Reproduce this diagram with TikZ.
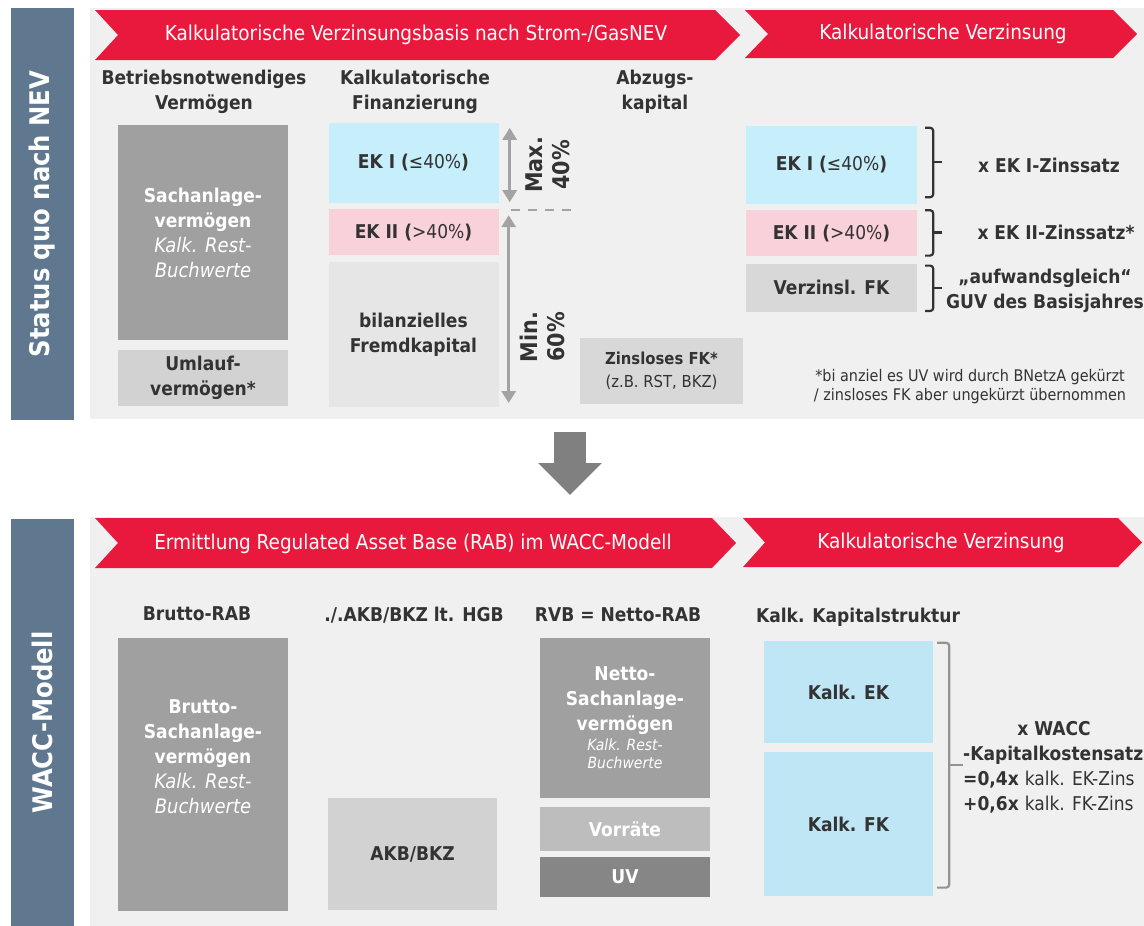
\documentclass[tikz,border=0pt]{standalone}
\usepackage{fontspec}
\setmainfont{DejaVu Sans Condensed}
\usetikzlibrary{arrows.meta,positioning}

\definecolor{barblue}{HTML}{5F7890}
\definecolor{panelgrey}{HTML}{F0F0F0}
\definecolor{bandred}{HTML}{E8193C}
\definecolor{darkbox}{HTML}{A0A0A0}
\definecolor{lightbox}{HTML}{D2D2D2}
\definecolor{palebox}{HTML}{E6E6E6}
\definecolor{midbox}{HTML}{D8D8D8}
\definecolor{ekblue}{HTML}{C6EEFB}
\definecolor{ekpink}{HTML}{F9D1DA}
\definecolor{waccblue}{HTML}{BEE6F5}
\definecolor{txtdark}{HTML}{333333}
\definecolor{arrgrey}{HTML}{A3A3A3}

\tikzset{
  lbl/.style = {align=center, inner sep=0pt, text=txtdark,
    font=\fontsize{19}{25}\selectfont\bfseries},
  blk/.style = {lbl, minimum width=170, minimum height=#1},
  greyblk/.style = {blk=#1, fill=darkbox, text=white},% Sachanlagen
  sidebar/.style = {rotate=90, fill=barblue, text=white, inner sep=0pt,
    minimum width=#1, minimum height=63,
    font=\fontsize{27}{30}\selectfont\bfseries},
  panel/.style = {fill=panelgrey, anchor=north west, inner sep=0pt},
  band/.style = {fill=bandred},
  bandtxt/.style = {text=white, inner sep=0pt,
    font=\fontsize{20.5}{22}\selectfont},
  pct/.style = {lbl, rotate=90, font=\fontsize{23}{27}\selectfont\bfseries},
  dblarr/.style = {{Triangle[width=14pt,length=12pt]}-{Triangle[width=14pt,length=12pt]},
    line width=3.5pt, draw=arrgrey},
  dashline/.style = {draw=arrgrey, line width=2.5pt, dash pattern=on 9pt off 8pt},
  brk/.style = {draw=txtdark, line width=2.2pt, rounded corners=3pt},
  note/.style = {align=center, inner sep=0pt, text=txtdark,
    font=\fontsize{16}{19}\selectfont},
  bigarr/.style = {-{Triangle[width=62pt,length=32pt]}, line width=32pt, draw=gray}
}

\begin{document}
\begin{tikzpicture}[x=1pt,y=-1pt]
\useasboundingbox (0,0) rectangle (1144,926);
\fill[white] (0,0) rectangle (1144,926);

% --- Status quo nach NEV ---
\node[sidebar=412] (sqbar) at (42.5,214) {Status quo nach NEV};
\node[panel, minimum width=1054, minimum height=411] (toppanel) at (90,8) {};
\fill[band] (95,10) -- (715,10) -- (740,35) -- (715,60) -- (95,60) -- (118,35) -- cycle;
\fill[band] (745,10) -- (1113,10) -- (1137,34) -- (1113,58) -- (745,58) -- (768,34) -- cycle;
\node[bandtxt] (hdbasis) at (416,35) {Kalkulatorische Verzinsungsbasis nach Strom-/GasNEV};
\node[bandtxt] (hdzins) at (943,34) {Kalkulatorische Verzinsung};

\node[lbl] (hbnv) at (204,92) {Betriebsnotwendiges\\Vermögen};
\node[lbl] (hfin) at (415,92) {Kalkulatorische\\Finanzierung};
\node[lbl] (habz) at (655,92) {Abzugs-\\kapital};

\node[greyblk=215] (sav) at (203,232.5) {Sachanlage-\\vermögen\\{\mdseries\itshape\fontsize{20}{25}\selectfont Kalk. Rest-}\\{\mdseries\itshape\fontsize{20}{25}\selectfont Buchwerte}};
\node[blk=56, fill=lightbox] (uv) at (203,378) {Umlauf-\\vermögen*};

\node[blk=80, fill=ekblue] (ek1) at (413.5,163) {EK I (\textmd{≤40\%})};
\node[blk=46, fill=ekpink, below=6pt of ek1] (ek2) {EK II (\textmd{>40\%})};
\node[blk=145, fill=palebox, below=6pt of ek2] (bfk) {bilanzielles\\Fremdkapital};

\draw[dblarr] ([xshift=11pt,yshift=-5pt]ek1.north east) -- ([xshift=11pt,yshift=1pt]ek1.south east);
\draw[dashline] ([xshift=12pt,yshift=-1pt]ek2.north east) -- ++(63,0);
\draw[dblarr] ([xshift=10pt,yshift=-6pt]ek2.north east) -- ([xshift=10pt,yshift=4pt]bfk.south east);
\node[pct] (maxlbl) at (548,165) {Max.\\40\%};
\node[pct] (minlbl) at (542,337) {Min.\\60\%};

\node[blk=66, minimum width=163, fill=midbox, font=\fontsize{16.5}{23}\selectfont\bfseries] (zfk) at (661.5,371) {Zinsloses FK*\\\textmd{(z.B. RST, BKZ)}};

\node[blk=78, minimum width=171, fill=ekblue] (ek1r) at (831.5,165) {EK I (\textmd{≤40\%})};
\node[blk=46, minimum width=171, fill=ekpink, below=6pt of ek1r] (ek2r) {EK II (\textmd{>40\%})};
\node[blk=48, minimum width=171, fill=midbox, below=7pt of ek2r] (vfk) {Verzinsl. FK};

\draw[brk] ([xshift=8pt,yshift=-2pt]ek1r.north east) -| ([xshift=16pt,yshift=7pt]ek1r.south east) -- ([xshift=8pt,yshift=7pt]ek1r.south east);
\draw[brk] ([xshift=16pt,yshift=3pt]ek1r.east) -- ++(9,0);
\draw[brk] ([xshift=8pt]ek2r.north east) -| ([xshift=16pt,yshift=1pt]ek2r.south east) -- ([xshift=8pt,yshift=1pt]ek2r.south east);
\draw[brk] ([xshift=16pt,yshift=1pt]ek2r.east) -- ++(9,0);
\draw[brk] ([xshift=8pt,yshift=-2pt]vfk.north east) -| ([xshift=16pt,yshift=1pt]vfk.south east) -- ([xshift=8pt,yshift=1pt]vfk.south east);
\draw[brk] ([xshift=16pt]vfk.east) -- ++(9,0);

\node[lbl] (zsek1) at (1049,165) {x EK I-Zinssatz};
\node[lbl] (zsek2) at (1056,232) {x EK II-Zinssatz*};
\node[lbl] (zsfk) at (1045,291) {„aufwandsgleich“\\GUV des Basisjahres};
\node[note] (fnote) at (970,387) {*bi anziel es UV wird durch BNetzA gekürzt\\/ zinsloses FK aber ungekürzt übernommen};

% --- Uebergang ---
\coordinate (arrfrom) at (570,432);
\coordinate (arrto) at (570,495);
\draw[bigarr] (arrfrom) -- (arrto);

% --- WACC-Modell ---
\node[sidebar=407] (waccbar) at (42.5,722.5) {WACC-Modell};
\node[panel, minimum width=1054, minimum height=409] (botpanel) at (90,517) {};
\fill[band] (95,518) -- (712,518) -- (736,543) -- (712,568) -- (95,568) -- (118,543) -- cycle;
\fill[band] (743,518) -- (1118,518) -- (1142,542.5) -- (1118,567) -- (743,567) -- (765,542.5) -- cycle;
\node[bandtxt] (hdrab) at (413,544) {Ermittlung Regulated Asset Base (RAB) im WACC-Modell};
\node[bandtxt] (hdzins2) at (941,543) {Kalkulatorische Verzinsung};

\node[lbl] (hbrutto) at (197,614) {Brutto-RAB};
\node[lbl] (hakb) at (414,615) {./.AKB/BKZ lt. HGB};
\node[lbl] (hnetto) at (618,615) {RVB = Netto-RAB};
\node[lbl] (hkap) at (858,617) {Kalk. Kapitalstruktur};

\node[greyblk=273] (brt) at (203,774.5) {Brutto-\\Sachanlage-\\vermögen\\{\mdseries\itshape\fontsize{20}{25}\selectfont Kalk. Rest-}\\{\mdseries\itshape\fontsize{20}{25}\selectfont Buchwerte}\\[10pt]};
\node[blk=112, minimum width=169, fill=lightbox] (akb) at (412.5,854) {AKB/BKZ};

\node[greyblk=160] (nsv) at (625,718) {Netto-\\Sachanlage-\\vermögen\\[-5pt]{\mdseries\itshape\fontsize{15.5}{17}\selectfont Kalk. Rest-}\\[-7pt]{\mdseries\itshape\fontsize{15.5}{17}\selectfont Buchwerte}};
\node[greyblk=44, fill=darkbox!70!white, below=9pt of nsv] (vorr) {Vorräte};
\node[greyblk=40, fill=gray!95!white, below=5pt of vorr] (uvb) {UV};

\node[blk=102, minimum width=169, fill=waccblue] (kek) at (848.5,692) {Kalk. EK};
\node[blk=144, minimum width=169, fill=waccblue, below=9pt of kek] (kfk) {Kalk. FK};

\draw[brk, draw=gray!85!white] ([xshift=4pt,yshift=-2pt]kek.north east) -| ([xshift=16pt,yshift=9pt]kfk.south east) -- ([xshift=4pt,yshift=9pt]kfk.south east);
\draw[brk, draw=gray!85!white] ([xshift=16pt,yshift=-124pt]kek.north east) -- ++(14,0);

\node[lbl] (wacc) at (1054,729) {x WACC};
\node[lbl, anchor=west] (kks) at (963,755) {-Kapitalkostensatz};
\node[lbl, anchor=west] (ekzins) at (963,780) {=0,4x \textmd{kalk. EK-Zins}};
\node[lbl, anchor=west] (fkzins) at (963,805) {+0,6x \textmd{kalk. FK-Zins}};
\end{tikzpicture}
\end{document}
